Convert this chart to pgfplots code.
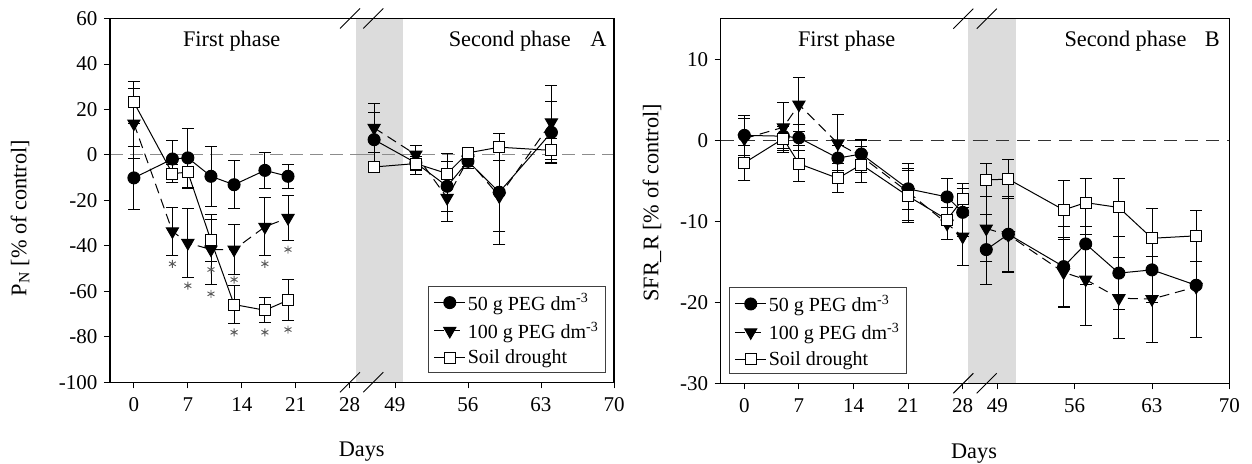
\documentclass[border=0pt]{standalone}
\usepackage{pgfplots}
\pgfplotsset{compat=1.18}
\usepackage{fontspec}
\setmainfont{Liberation Serif}
\definecolor{band}{RGB}{220,220,220}
\newcommand{\F}{\fontsize{21}{24}\selectfont}
\newcommand{\G}{\fontsize{22.3}{26}\selectfont}
\pgfplotsset{
 base/.style={scale only axis, anchor=south west, axis line style={draw=none},
   tick align=outside, major tick length=6pt, tick style={black,line width=0.9pt},
   xtick pos=bottom, ytick pos=left, tick label style={font=\F},
   xticklabel style={yshift=-6pt}, yticklabel style={xshift=-3pt},
   clip=true, /pgf/number format/assume math mode=true},
 eb/.style={error bars/y dir=both, error bars/y explicit,
   error bars/error bar style={solid,line width=0.9pt,black},
   error bars/error mark=-,
   error bars/error mark options={solid,line width=0.9pt,mark size=6pt,black,rotate=90}},
 s50/.style={black, line width=1pt, solid, mark=*, mark size=6pt, mark options={solid,fill=black}, eb},
 s100/.style={black, line width=1pt, dash pattern=on 10pt off 6pt, mark=triangle*, mark size=7pt, mark options={solid,fill=black,rotate=180}, eb},
 ssoil/.style={black, line width=1pt, solid, mark=square*, mark size=5.5pt, mark options={solid,fill=white}, eb},
 star/.style={only marks, mark=asterisk, mark size=4pt, black!65, mark options={line width=0.9pt}},
 leg/.style={legend style={draw=black!75, line width=0.8pt, fill=white, font=\fontsize{20}{22}\selectfont,
   inner xsep=5pt, inner ysep=5pt, row sep=6pt, cells={anchor=west}},
   legend image code/.code={\draw[mark repeat=2,mark phase=2] plot coordinates {(0pt,0pt) (15.5pt,0pt) (31pt,0pt)};}},
}
\begin{document}
\begin{tikzpicture}
\useasboundingbox (0,0) rectangle (1252pt,463pt);
% ================= Panel A, first phase =================
\begin{axis}[base, at={(110pt,80.7pt)}, width=252pt, height=363.8pt,
  xmin=-3.1, xmax=29.6, ymin=-100, ymax=60, xtick={0,7,14,21,28},
  ytick={-100,-80,-60,-40,-20,0,20,40,60},
  yticklabels={-100,-80,-60,-40,-20,0,20,40,60}]
\fill[band] (axis cs:28.83,-100) rectangle (axis cs:29.6,60);
\draw[black!45, line width=1pt, dash pattern=on 13pt off 7pt] (axis cs:-3.1,0) -- (axis cs:29.6,0);
\addplot[s50] table[x=d,y=v,y error=e] {
d v e
0 -10.1 14
5 -1.8 8
7 -1.3 13
10 -9.4 13.2
13 -13.1 10.6
17 -6.8 7.8
20 -9.4 5.4
};
\addplot[s100] table[x=d,y=v,y error=e] {
d v e
0 13.8 15.5
5 -33.6 10.6
7 -38.7 15.2
10 -41.6 15.5
13 -41.6 11
17 -31.6 12.8
20 -27.7 10
};
\addplot[ssoil] table[x=d,y=v,y error=e] {
d v e
0 23.1 9.2
5 -8.2 4.1
7 -7.6 7
10 -37.6 9.2
13 -65.8 8.5
17 -68.3 5.5
20 -63.9 9
};
\addplot[star] table {
5 -47.9
7 -57.5
10 -50.4
10 -61.1
13 -54.8
13 -78.0
17 -47.9
17 -78.0
20 -41.6
20 -76.8
};
\end{axis}
% ================= Panel A, second phase =================
\begin{axis}[base, leg, at={(362pt,80.7pt)}, width=252pt, height=363.8pt,
  xmin=45.84, xmax=70, ymin=-100, ymax=60, xtick={49,56,63,70}, ytick=\empty,
  legend style={at={(0.967,0.026)}, anchor=south east}]
\fill[band] (axis cs:45.84,-100) rectangle (axis cs:49.8,60);
\draw[black!45, line width=1pt, dash pattern=on 13pt off 7pt] (axis cs:45.84,0) -- (axis cs:70,0);
\addplot[s50] table[x=d,y=v,y error=e] {
d v e
47 6.7 11.8
51 -3.5 5
54 -13.8 11
56 -2.8 3
59 -16.4 17.4
64 9.9 13.7
};
\addlegendentry{50 g PEG dm\textsuperscript{-3}}
\addplot[s100] table[x=d,y=v,y error=e] {
d v e
47 11.9 10.6
51 0.1 4
54 -18.9 10.3
56 -2.1 3
59 -18.2 21
64 14.3 16.2
};
\addlegendentry{100 g PEG dm\textsuperscript{-3}}
\addplot[ssoil] table[x=d,y=v,y error=e] {
d v e
47 -5.3 2.6
51 -3.8 3
54 -8.2 9
56 0.9 2
59 3.4 6
64 2.0 5.3
};
\addlegendentry{Soil drought}
\end{axis}
% ================= Panel B, first phase =================
\begin{axis}[base, leg, at={(720.7pt,79.7pt)}, width=254.3pt, height=364.6pt,
  xmin=-3.03, xmax=29.58, ymin=-30, ymax=15, xtick={0,7,14,21,28},
  ytick={-30,-20,-10,0,10}, yticklabels={-30,-20,-10,0,10},
  legend style={at={(0.034,0.025)}, anchor=south west}]
\fill[band] (axis cs:28.72,-30) rectangle (axis cs:29.58,15);
\draw[black!80, line width=0.8pt, dash pattern=on 13pt off 8pt] (axis cs:-3.03,0) -- (axis cs:29.58,0);
\addplot[s50] table[x=d,y=v,y error=e] {
d v e
0 0.6 2.5
5 0.5 1.5
7 0.3 1.6
12 -2.2 1.5
15 -1.7 1.8
21 -6.0 2.5
26 -7.0 2.3
28 -8.9 3
};
\addlegendentry{50 g PEG dm\textsuperscript{-3}}
\addplot[s100] table[x=d,y=v,y error=e] {
d v e
0 0.2 2.5
5 1.6 3.1
7 4.4 3.3
12 -0.4 3.6
15 -2.0 2
21 -6.4 3.5
26 -10.3 2
28 -11.9 3.6
};
\addlegendentry{100 g PEG dm\textsuperscript{-3}}
\addplot[ssoil] table[x=d,y=v,y error=e] {
d v e
0 -2.8 2.2
5 0.2 1.5
7 -2.9 2.2
12 -4.7 1.8
15 -3.0 2.2
21 -6.9 3.2
26 -9.8 2.4
28 -7.3 2
};
\addlegendentry{Soil drought}
\end{axis}
% ================= Panel B, second phase =================
\begin{axis}[base, at={(975pt,79.7pt)}, width=254.3pt, height=364.6pt,
  xmin=46.98, xmax=70, ymin=-30, ymax=15, xtick={49,56,63,70}, ytick=\empty]
\fill[band] (axis cs:46.98,-30) rectangle (axis cs:50.67,15);
\draw[black!80, line width=0.8pt, dash pattern=on 13pt off 8pt] (axis cs:46.98,0) -- (axis cs:70,0);
\addplot[s50] table[x=d,y=v,y error=e] {
d v e
48 -13.5 4.3
50 -11.6 4.7
55 -15.6 4.9
57 -12.8 5
60 -16.4 4.5
63 -16.0 4
67 -17.9 6.5
};
\addplot[s100] table[x=d,y=v,y error=e] {
d v e
48 -10.9 4
50 -11.7 4.5
55 -16.3 4.3
57 -17.2 5.6
60 -19.5 5
63 -19.6 5.3
67 -18.1 6.3
};
\addplot[ssoil] table[x=d,y=v,y error=e] {
d v e
48 -4.9 2
50 -4.8 2.4
55 -8.6 3.6
57 -7.7 3
60 -8.3 3.6
63 -12.1 3.7
67 -11.8 3.1
};
\end{axis}
% ================= frames, breaks, texts =================
\draw[line width=1.1pt] (110pt,80.7pt) rectangle (614pt,444.5pt);
\draw[line width=1.1pt] (720.7pt,79.7pt) rectangle (1229.3pt,444.3pt);
\foreach \x in {350,373.3} {
  \draw[line width=0.9pt] (\x pt-10pt,444.5pt-10pt) -- (\x pt+10pt,444.5pt+10pt);
  \draw[line width=0.9pt] (\x pt-10pt,80.7pt-10pt) -- (\x pt+10pt,80.7pt+10pt);
}
\foreach \x in {963.3,986.7} {
  \draw[line width=0.9pt] (\x pt-10pt,444.3pt-10pt) -- (\x pt+10pt,444.3pt+10pt);
  \draw[line width=0.9pt] (\x pt-10pt,79.7pt-10pt) -- (\x pt+10pt,79.7pt+10pt);
}
\node[font=\G, anchor=base] at (231.7pt,416.3pt) {First phase};
\node[font=\G, anchor=base east, inner sep=0pt] at (571pt,416.3pt) {Second phase};
\node[font=\G, anchor=base east, inner sep=0pt] at (606.7pt,416.3pt) {A};
\node[font=\G, anchor=base] at (846.7pt,416.3pt) {First phase};
\node[font=\G, anchor=base east, inner sep=0pt] at (1186.7pt,416.3pt) {Second phase};
\node[font=\G, anchor=base east, inner sep=0pt] at (1220pt,416.3pt) {B};
\node[font=\G, anchor=base] at (361.7pt,6.3pt) {Days};
\node[font=\G, anchor=base] at (974pt,4.7pt) {Days};
\node[font=\G, rotate=90] at (20pt,245pt) {P\textsubscript{N} [\% of control]};
\node[font=\G, rotate=90] at (652pt,260pt) {SFR\_R [\% of control]};
\end{tikzpicture}
\end{document}
